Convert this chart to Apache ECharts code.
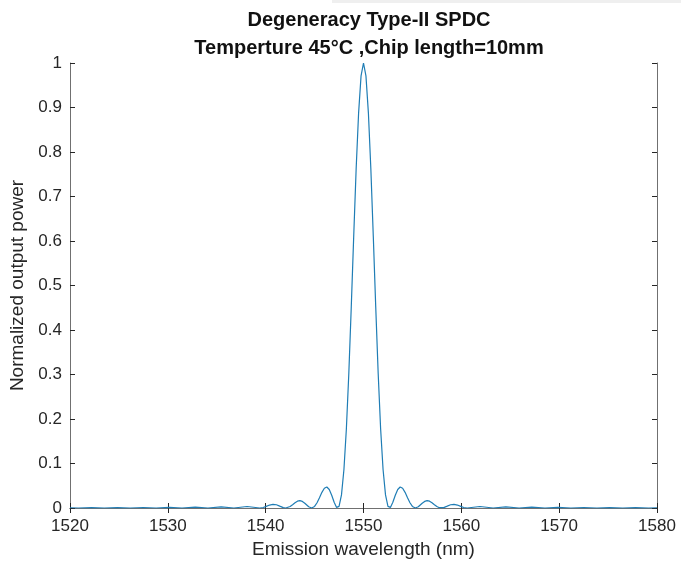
<!DOCTYPE html>
<html>
<head>
<meta charset="utf-8">
<script src="https://cdn.jsdelivr.net/npm/echarts@6/dist/echarts.min.js"></script>
<style>
  html, body { margin: 0; padding: 0; background: #fff; }
  #chart { width: 681px; height: 564px; }
</style>
</head>
<body>
<div id="chart"></div>
<script>
// wavelength (nm) and normalized power
const wavelengths = [
  1520, 1520.85, 1522.2, 1523.5, 1524.85, 1526.15, 1527.5, 1528.8, 1530.15, 1531.45,
  1532.8, 1534.1, 1535.45, 1536.75, 1538.1, 1539.4, 1539.75, 1540.0, 1540.4, 1540.75,
  1541.1, 1541.5, 1541.8, 1542.05, 1542.25, 1542.5, 1542.75, 1543.0, 1543.25, 1543.5,
  1543.75, 1544.0, 1544.2, 1544.4, 1544.7, 1545.0, 1545.25, 1545.5, 1545.75, 1546.0,
  1546.25, 1546.5, 1546.75, 1547.0, 1547.25, 1547.35, 1547.5, 1547.75, 1548.0, 1548.25,
  1548.5, 1548.75, 1549.0, 1549.25, 1549.5, 1549.75, 1550,
  1550.25, 1550.5, 1550.75, 1551.0, 1551.25, 1551.5, 1551.75, 1552.0, 1552.25, 1552.5,
  1552.65, 1552.75, 1553.0, 1553.25, 1553.5, 1553.75, 1554.0, 1554.25, 1554.5, 1554.75,
  1555.0, 1555.3, 1555.6, 1555.8, 1556.0, 1556.25, 1556.5, 1556.75, 1557.0, 1557.25,
  1557.5, 1557.75, 1557.95, 1558.2, 1558.5, 1558.9, 1559.25, 1559.6, 1560.0, 1560.25,
  1560.6, 1561.9, 1563.25, 1564.55, 1565.9, 1567.2, 1568.55, 1569.85, 1571.2, 1572.5,
  1573.85, 1575.15, 1576.5, 1577.8, 1579.15, 1580
];
const power = [
  0.0006, 0, 0.0008, 0, 0.0009, 0, 0.0011, 0, 0.0014, 0,
  0.0018, 0, 0.0024, 0, 0.0034, 0, 0.0011, 0.0031, 0.0066, 0.0083,
  0.0073, 0.0036, 0.0009, 0, 0.00065, 0.0033, 0.0074, 0.0118, 0.0153, 0.0165,
  0.0148, 0.0108, 0.0066, 0.0027, 0, 0.0035, 0.0118, 0.0231, 0.0352, 0.0444,
  0.0472, 0.0416, 0.0287, 0.0128, 0.0013, 0, 0.0036, 0.0294, 0.0865, 0.178,
  0.303, 0.452, 0.611, 0.763, 0.888, 0.971, 1,
  0.971, 0.888, 0.763, 0.611, 0.452, 0.303, 0.178, 0.0865, 0.0294, 0.0036,
  0, 0.0013, 0.0128, 0.0287, 0.0416, 0.0472, 0.0444, 0.0352, 0.0231, 0.0118,
  0.0035, 0, 0.0027, 0.0066, 0.0108, 0.0148, 0.0165, 0.0153, 0.0118, 0.0074,
  0.0033, 0.00065, 0, 0.0009, 0.0036, 0.0073, 0.0083, 0.0066, 0.0031, 0.0011,
  0, 0.0034, 0, 0.0024, 0, 0.0018, 0, 0.0014, 0, 0.0011,
  0, 0.0009, 0, 0.0008, 0, 0.0006
];
const xTicks = [1520, 1530, 1540, 1550, 1560, 1570, 1580];
const yTicks = [0, 0.1, 0.2, 0.3, 0.4, 0.5, 0.6, 0.7, 0.8, 0.9, 1];

const boxColor = "#707070";
const textColor = "#262626";
const font = "Liberation Sans, Arial, Helvetica, sans-serif";

const chart = echarts.init(document.getElementById("chart"));

const baseX = {
  type: "value",
  min: 1520,
  max: 1580,
  interval: 10,
  axisLine: { show: true, lineStyle: { color: boxColor, width: 1 } },
  axisTick: { show: true, inside: true, length: 5, lineStyle: { color: textColor } },
  splitLine: { show: false }
};
const baseY = {
  type: "value",
  min: 0,
  max: 1,
  interval: 0.1,
  axisLine: { show: true, lineStyle: { color: boxColor, width: 1 } },
  axisTick: { show: true, inside: true, length: 5, lineStyle: { color: textColor } },
  splitLine: { show: false }
};

chart.setOption({
  animation: false,
  backgroundColor: "#ffffff",
  graphic: [
    // thin grey strip along the top right of the screenshot
    { type: "rect", left: 332, top: 0, shape: { width: 349, height: 3 }, style: { fill: "#efefef" }, silent: true }
  ],
  title: {
    text: "Degeneracy Type-II SPDC\nTemperture 45°C ,Chip length=10mm",
    left: 364,
    textAlign: "center",
    top: 1,
    textStyle: {
      fontFamily: font,
      fontSize: 20,
      fontWeight: "bold",
      color: "#111",
      lineHeight: 28
    }
  },
  grid: { left: 70, right: 24, top: 63, bottom: 56 },
  xAxis: [
    Object.assign({}, baseX, {
      position: "bottom",
      name: "Emission wavelength (nm)",
      nameLocation: "middle",
      nameGap: 32,
      nameTextStyle: { fontFamily: font, fontSize: 19, color: textColor },
      axisLabel: {
        fontFamily: font, fontSize: 17, color: textColor, margin: 10,
        formatter: (v) => (xTicks.includes(v) ? String(v) : "")
      }
    }),
    Object.assign({}, baseX, { position: "top", axisLabel: { show: false } })
  ],
  yAxis: [
    Object.assign({}, baseY, {
      position: "left",
      name: "Normalized output power",
      nameLocation: "middle",
      nameGap: 42,
      nameTextStyle: { fontFamily: font, fontSize: 19, color: textColor },
      axisLabel: {
        fontFamily: font, fontSize: 17, color: textColor, margin: 8,
        formatter: (v) => {
          const t = yTicks.find((k) => Math.abs(k - v) < 1e-9);
          return t === undefined ? "" : String(t);
        }
      }
    }),
    Object.assign({}, baseY, { position: "right", axisLabel: { show: false } })
  ],
  series: [
    {
      type: "line",
      data: wavelengths.map((w, i) => [w, power[i]]),
      showSymbol: false,
      smooth: false,
      lineStyle: { color: "#1f7db5", width: 1.2 },
      z: 1
    }
  ]
});
</script>
</body>
</html>
